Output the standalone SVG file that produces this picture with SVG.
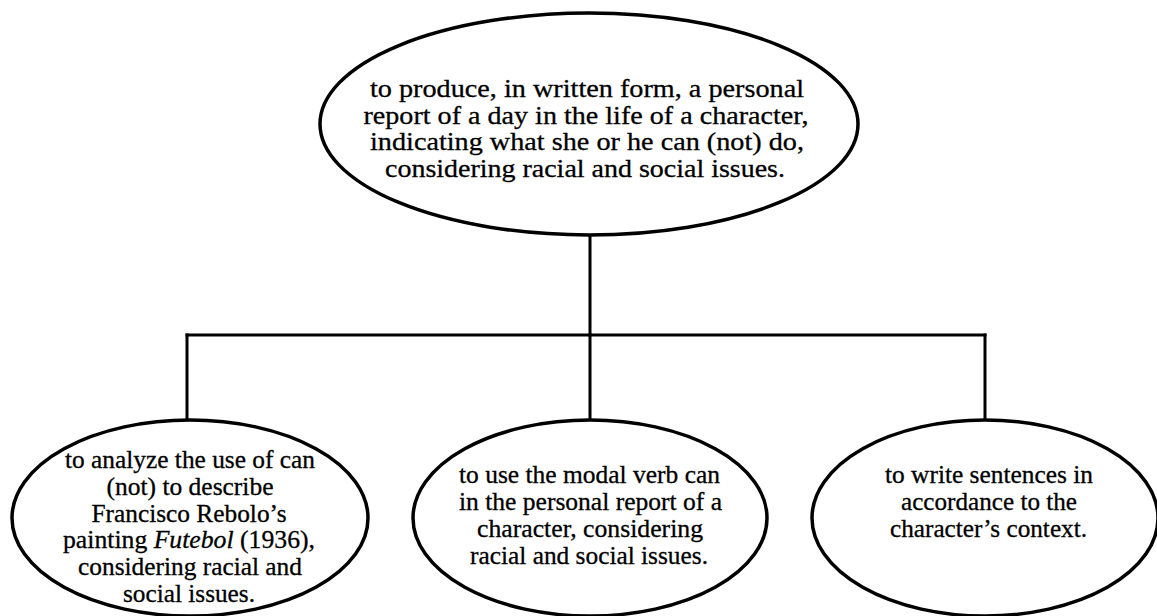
<svg xmlns="http://www.w3.org/2000/svg" width="1157" height="616" viewBox="0 0 1157 616">
  <style>
    .node { fill: #ffffff; stroke: #000000; stroke-width: 3.5; }
    .conn { fill: none; stroke: #000000; stroke-width: 3; stroke-linecap: square; }
    .lbl { font-family: "Liberation Serif", "Times New Roman", serif; font-size: 25px; fill: #000000; stroke: #000000; stroke-width: 0.3; text-anchor: middle; }
    .top { font-size: 26px; }
  </style>
  <rect width="1157" height="616" fill="#ffffff"/>
  <g id="connectors">
    <line class="conn" x1="590" y1="236" x2="590" y2="335"/>
    <line class="conn" x1="187" y1="335" x2="985" y2="335"/>
    <line class="conn" x1="187" y1="335" x2="187" y2="420"/>
    <line class="conn" x1="590" y1="335" x2="590" y2="420"/>
    <line class="conn" x1="985" y1="335" x2="985" y2="420"/>
  </g>
  <g id="node-top">
    <ellipse class="node" cx="589" cy="124" rx="269" ry="111"/>
    <text class="lbl top" x="587" y="97" textLength="434" lengthAdjust="spacingAndGlyphs">to produce, in written form, a personal</text>
    <text class="lbl top" x="586" y="123.7" textLength="445" lengthAdjust="spacingAndGlyphs">report of a day in the life of a character,</text>
    <text class="lbl top" x="587" y="150.4" textLength="434" lengthAdjust="spacingAndGlyphs">indicating what she or he can (not) do,</text>
    <text class="lbl top" x="585" y="177" textLength="400" lengthAdjust="spacingAndGlyphs">considering racial and social issues.</text>
  </g>
  <g id="node-left">
    <ellipse class="node" cx="190" cy="518" rx="178" ry="98"/>
    <text class="lbl" x="190" y="468" textLength="250" lengthAdjust="spacingAndGlyphs">to analyze the use of can</text>
    <text class="lbl" x="190" y="494.8" textLength="167" lengthAdjust="spacingAndGlyphs">(not) to describe</text>
    <text class="lbl" x="189" y="521.6" textLength="195" lengthAdjust="spacingAndGlyphs">Francisco Rebolo’s</text>
    <text class="lbl" x="189" y="548.4" textLength="252" lengthAdjust="spacingAndGlyphs">painting <tspan font-style="italic">Futebol</tspan> (1936),</text>
    <text class="lbl" x="190" y="575.2" textLength="224" lengthAdjust="spacingAndGlyphs">considering racial and</text>
    <text class="lbl" x="189" y="602" textLength="132" lengthAdjust="spacingAndGlyphs">social issues.</text>
  </g>
  <g id="node-middle">
    <ellipse class="node" cx="590" cy="518" rx="177" ry="98"/>
    <text class="lbl" x="589.5" y="483" textLength="261" lengthAdjust="spacingAndGlyphs">to use the modal verb can</text>
    <text class="lbl" x="590.5" y="510" textLength="263" lengthAdjust="spacingAndGlyphs">in the personal report of a</text>
    <text class="lbl" x="590" y="537" textLength="226" lengthAdjust="spacingAndGlyphs">character, considering</text>
    <text class="lbl" x="589" y="564" textLength="238" lengthAdjust="spacingAndGlyphs">racial and social issues.</text>
  </g>
  <g id="node-right">
    <ellipse class="node" cx="985" cy="518" rx="173" ry="98"/>
    <text class="lbl" x="989" y="483" textLength="208" lengthAdjust="spacingAndGlyphs">to write sentences in</text>
    <text class="lbl" x="989" y="510" textLength="176" lengthAdjust="spacingAndGlyphs">accordance to the</text>
    <text class="lbl" x="988.5" y="537" textLength="197" lengthAdjust="spacingAndGlyphs">character’s context.</text>
  </g>
</svg>
